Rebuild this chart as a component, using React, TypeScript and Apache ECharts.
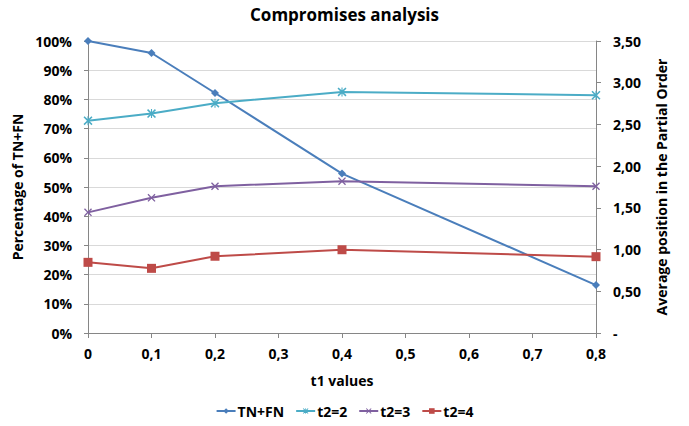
import React, { useEffect, useRef } from "react";
import * as echarts from "echarts";

const t1Values = [0, 0.1, 0.2, 0.4, 0.8];
const tnFn = [1.0, 0.959, 0.822, 0.546, 0.164];
const t2eq2 = [2.545, 2.63, 2.755, 2.89, 2.85];
const t2eq3 = [1.446, 1.62, 1.76, 1.82, 1.76];
const t2eq4 = [0.847, 0.775, 0.92, 0.998, 0.915];

const FONT = "Open Sans";
const AXIS_COLOR = "#868686";

const xPath = "path://M0,1.2 L1.2,0 L5,3.8 L8.8,0 L10,1.2 L6.2,5 L10,8.8 L8.8,10 L5,6.2 L1.2,10 L0,8.8 L3.8,5 Z";
const starPath =
  "path://M0,1.2 L1.2,0 L5,3.8 L8.8,0 L10,1.2 L6.2,5 L10,8.8 L8.8,10 L5,6.2 L1.2,10 L0,8.8 L3.8,5 Z M4.4,0 L5.6,0 L5.6,10 L4.4,10 Z";

const pair = (vals: number[]) => t1Values.map((x, i) => [x, vals[i]]);

export default function App() {
  const ref = useRef<HTMLDivElement>(null);
  useEffect(() => {
    if (!ref.current) return;
    const chart = echarts.init(ref.current, undefined, { renderer: "svg" });
    const labelStyle = { fontFamily: FONT, fontWeight: "bold" as const, fontSize: 14, color: "#000" };
    chart.setOption({
      animation: false,
      backgroundColor: "#fff",
      title: {
        text: "Compromises analysis",
        left: "center",
        top: 1,
        textStyle: { fontFamily: FONT, fontWeight: "bold", fontSize: 17, color: "#000" },
      },
      grid: { left: 88, right: 93, top: 41, bottom: 93 },
      legend: {
        bottom: 3,
        left: "center",
        itemWidth: 19,
        itemHeight: 7,
        itemGap: 11,
        textStyle: { ...labelStyle, fontSize: 14, padding: [0, 0, 0, -3] },
        data: ["TN+FN", "t2=2", "t2=3", "t2=4"],
      },
      xAxis: {
        type: "value",
        min: 0,
        max: 0.8,
        interval: 0.1,
        name: "t1 values",
        nameLocation: "middle",
        nameGap: 40,
        nameTextStyle: labelStyle,
        axisLine: { lineStyle: { color: AXIS_COLOR } },
        axisTick: { show: true, length: 5, lineStyle: { color: AXIS_COLOR } },
        splitLine: { show: false },
        axisLabel: {
          ...labelStyle,
          margin: 13,
          formatter: (v: number) => (v === 0 ? "0" : v.toFixed(1).replace(".", ",")),
        },
      },
      yAxis: [
        {
          type: "value",
          min: 0,
          max: 1,
          interval: 0.1,
          name: "Percentage of TN+FN",
          nameLocation: "middle",
          nameGap: 60,
          nameTextStyle: labelStyle,
          axisLine: { show: true, lineStyle: { color: AXIS_COLOR } },
          axisTick: { show: true, length: 4, lineStyle: { color: AXIS_COLOR } },
          splitLine: { show: true, lineStyle: { color: "#d9d9d9", width: 1 } },
          axisLabel: {
            ...labelStyle,
            margin: 16,
            formatter: (v: number) => Math.round(v * 100) + "%",
          },
        },
        {
          type: "value",
          min: 0,
          max: 3.5,
          interval: 0.5,
          position: "right",
          name: "Average position in the Partial Order",
          nameLocation: "middle",
          nameGap: 58,
          nameRotate: 90,
          nameTextStyle: labelStyle,
          axisLine: { show: true, lineStyle: { color: AXIS_COLOR } },
          axisTick: { show: true, length: 5, lineStyle: { color: AXIS_COLOR } },
          splitLine: { show: false },
          axisLabel: {
            ...labelStyle,
            margin: 17,
            formatter: (v: number) => (v === 0 ? "-" : v.toFixed(2).replace(".", ",")),
          },
        },
      ],
      series: [
        {
          name: "TN+FN",
          type: "line",
          yAxisIndex: 0,
          data: pair(tnFn),
          symbol: "diamond",
          symbolSize: 8,
          color: "#4a7ebb",
          lineStyle: { width: 2, color: "#4a7ebb" },
          itemStyle: { color: "#4a7ebb" },
        },
        {
          name: "t2=2",
          type: "line",
          yAxisIndex: 1,
          data: pair(t2eq2),
          symbol: starPath,
          symbolSize: 9,
          color: "#4bacc6",
          lineStyle: { width: 2, color: "#4bacc6" },
          itemStyle: { color: "#4bacc6" },
        },
        {
          name: "t2=3",
          type: "line",
          yAxisIndex: 1,
          data: pair(t2eq3),
          symbol: xPath,
          symbolSize: 8,
          color: "#7f60a0",
          lineStyle: { width: 2, color: "#7f60a0" },
          itemStyle: { color: "#7f60a0" },
        },
        {
          name: "t2=4",
          type: "line",
          yAxisIndex: 1,
          data: pair(t2eq4),
          symbol: "rect",
          symbolSize: 9,
          color: "#be4b48",
          lineStyle: { width: 2, color: "#be4b48" },
          itemStyle: { color: "#be4b48" },
        },
      ],
    });
    return () => chart.dispose();
  }, []);
  return <div ref={ref} style={{ width: 689, height: 426, position: "absolute", left: 0, top: 0 }} />;
}
